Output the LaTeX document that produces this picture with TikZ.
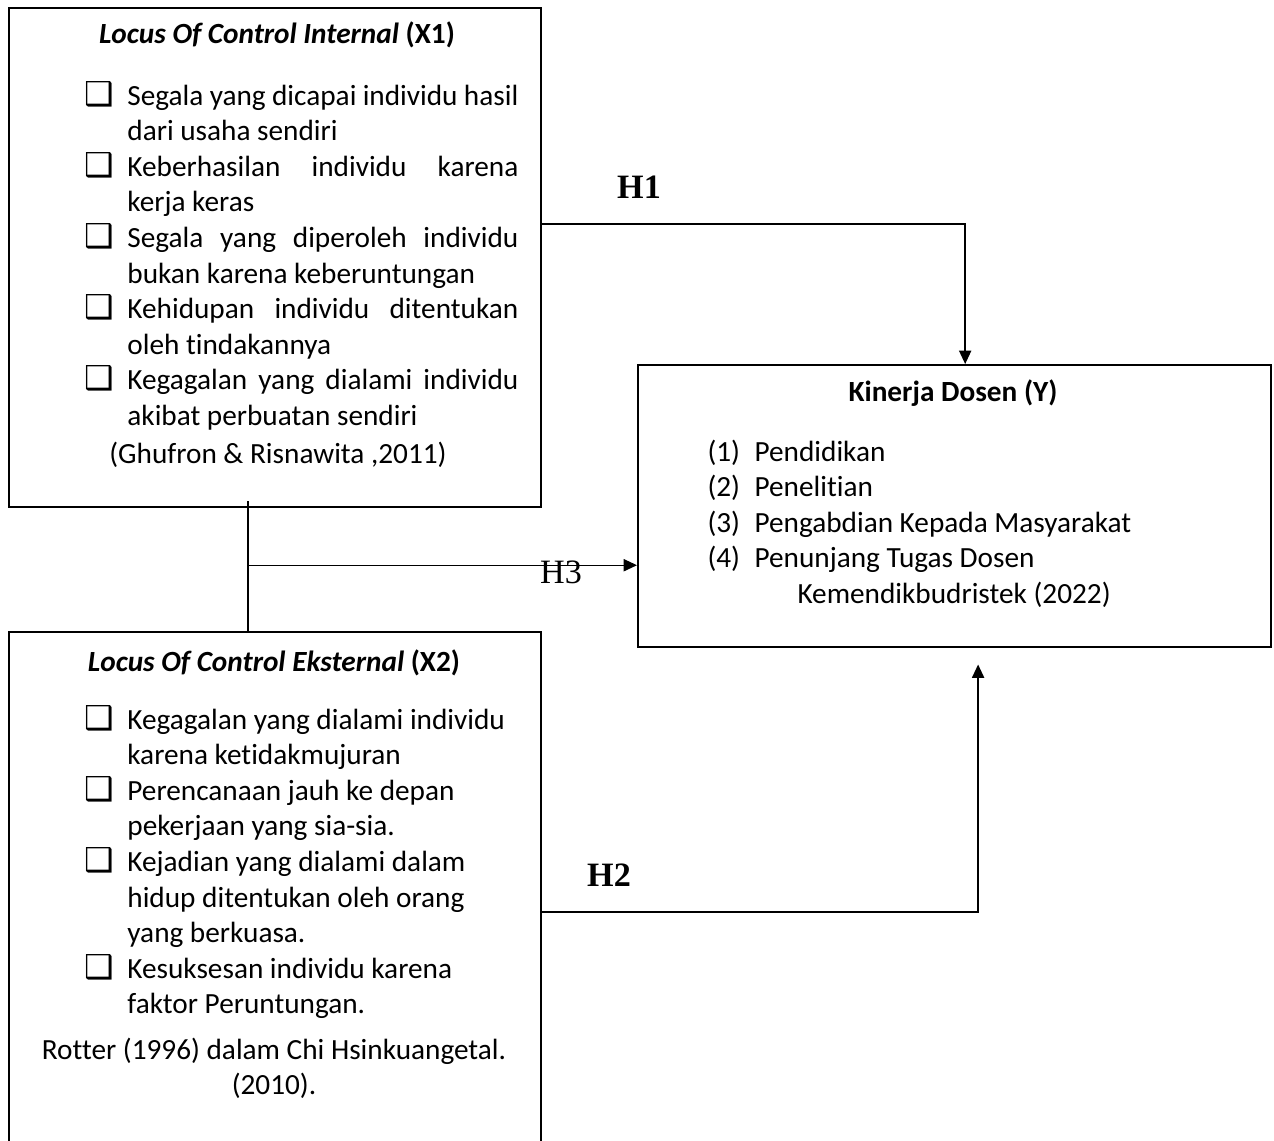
\documentclass[tikz,border=0pt]{standalone}
\usepackage{fontspec}
\setmainfont{Carlito}[Ligatures=CommonOff]
\newfontfamily\hfont{Liberation Serif}
\newfontfamily\ckfont{DejaVu Sans}
\usetikzlibrary{arrows.meta}
\newcommand{\ck}{{\ckfont\fontsize{13.5}{14}\selectfont\char"2751}}
\newcommand{\jl}[1]{\makebox[\linewidth][s]{#1}}
\tikzset{
  box/.style={draw, line width=1pt, anchor=north west, inner sep=0pt},
  txt/.style={inner sep=0pt, font=\fontsize{12}{14.6}\selectfont},
  lbl/.style={inner sep=0pt, font=\hfont\fontsize{14}{14}\selectfont\bfseries},
  lnk/.style={line width=0.6pt},
  arr/.style={lnk, -{Triangle[length=5.5pt,width=5pt]}}
}

\begin{document}
\begin{tikzpicture}[x=0.41pt, y=-0.41pt]
    \useasboundingbox (0,0) rectangle (1274,1140);
    \path (8,7) node[box, minimum width=218.1pt, minimum height=204.6pt](x1){};
    \path (8,631) node[box, minimum width=218.1pt, minimum height=221.4pt](x2){};
    \path (637,364) node[box, minimum width=259.5pt, minimum height=115.6pt](kin){};

    \path (277,43) node[txt, anchor=base](x1t){\bfseries\itshape Locus Of Control Internal \upshape(X1)};
    \path (84,105) node[txt, anchor=base west](x1l){%
        \begin{tabular}[t]{@{}p{17.6pt}@{}p{160.3pt}@{}}
        \ck & \jl{Segala yang dicapai individu hasil}\\
            & dari usaha sendiri\\
        \ck & \jl{Keberhasilan individu karena}\\
            & kerja keras\\
        \ck & \jl{Segala yang diperoleh individu}\\
            & bukan karena keberuntungan\\
        \ck & \jl{Kehidupan individu ditentukan}\\
            & oleh tindakannya\\
        \ck & \jl{Kegagalan yang dialami individu}\\
            & akibat perbuatan sendiri
        \end{tabular}};
    \path (278,463) node[txt, anchor=base](x1c){(Ghufron \& Risnawita ,2011)};

    \path (274,671) node[txt, anchor=base](x2t){\bfseries\itshape Locus Of Control Eksternal \upshape(X2)};
    \path (84,729) node[txt, anchor=base west](x2l){%
        \begin{tabular}[t]{@{}p{17.6pt}@{}l@{}}
        \ck & Kegagalan yang dialami individu\\
            & karena ketidakmujuran\\
        \ck & Perencanaan jauh ke depan\\
            & pekerjaan yang sia-sia.\\
        \ck & Kejadian yang dialami dalam\\
            & hidup ditentukan oleh orang\\
            & yang berkuasa.\\
        \ck & Kesuksesan individu karena\\
            & faktor Peruntungan.
        \end{tabular}};
    \path (274,1059) node[txt, anchor=base](x2c){%
        \begin{tabular}[t]{@{}c@{}}
        Rotter (1996) dalam Chi Hsinkuangetal.\\
        (2010).
        \end{tabular}};

    \path (953,401) node[txt, anchor=base](kint){\bfseries Kinerja Dosen (Y)};
    \path (707,461) node[txt, anchor=base west](kinl){%
        \begin{tabular}[t]{@{}p{19.3pt}@{}l@{}}
        (1) & Pendidikan\\
        (2) & Penelitian\\
        (3) & Pengabdian Kepada Masyarakat\\
        (4) & Penunjang Tugas Dosen\\
            & \hspace{17.6pt}Kemendikbudristek (2022)
        \end{tabular}};

    \draw[arr] ([yshift=-89pt]x1.north east) -| ([xshift=4.3pt]kin.north);
    \draw[arr] ([yshift=-115.2pt]x2.north east) -| ([xshift=9.6pt,yshift=-6.6pt]kin.south);
    \draw[lnk] ([xshift=-11.1pt,yshift=2.9pt]x1.south) coordinate (s3) -- ([xshift=-11.1pt]x2.north);
    \coordinate (t3) at ([yshift=-24.2pt]kin.west);
    \draw[arr] (t3 -| s3) -- (t3);

    \path (639,187) node[lbl](h1){H1};
    \path (609,875) node[lbl](h2){H2};
    \path (561,572) node[lbl, font=\hfont\fontsize{14}{14}\selectfont](h3){H3};
\end{tikzpicture}
\end{document}
